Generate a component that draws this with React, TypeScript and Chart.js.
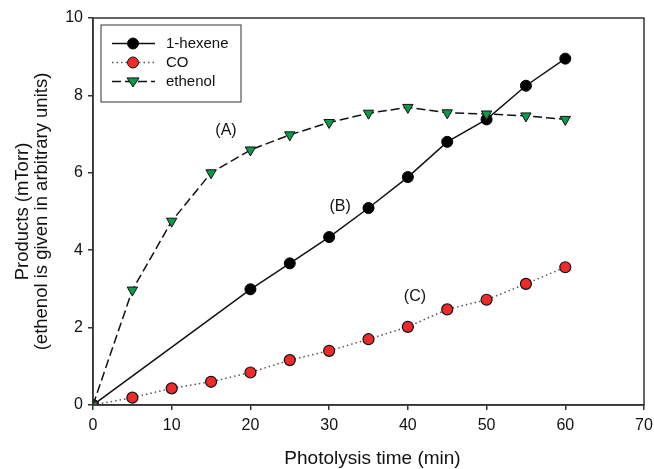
import React, { useEffect, useRef } from "react";
import { Chart, registerables } from "chart.js";

Chart.register(...registerables);

const times = [0, 5, 10, 15, 20, 25, 30, 35, 40, 45, 50, 55, 60];
const hexeneTimes = [0, 20, 25, 30, 35, 40, 45, 50, 55, 60];
const hexene = [0, 2.99, 3.66, 4.34, 5.09, 5.89, 6.8, 7.38, 8.25, 8.95];
const co = [0, 0.19, 0.43, 0.6, 0.84, 1.16, 1.4, 1.7, 2.02, 2.47, 2.72, 3.13, 3.56];
const ethenol = [0, 2.97, 4.75, 6.0, 6.59, 6.98, 7.3, 7.54, 7.69, 7.55, 7.52, 7.47, 7.38];
const annotations = [
  { text: "(A)", x: 16.9, y: 7.08 },
  { text: "(B)", x: 31.4, y: 5.12 },
  { text: "(C)", x: 40.9, y: 2.79 },
];
const xTitle = "Photolysis time (min)";
const yTitle = ["Products (mTorr)", "(ethenol is given in arbitrary units)"];

const FONT = "'Liberation Sans', Arial, sans-serif";

export default function App() {
  const ref = useRef<HTMLCanvasElement | null>(null);
  useEffect(() => {
    if (!ref.current) return;
    const toXY = (xs: number[], ys: number[]) => xs.map((x, i) => ({ x, y: ys[i] }));

    const framePlugin = {
      id: "frame",
      afterDraw(chart: any) {
        const { ctx, chartArea: a, scales } = chart;
        ctx.save();
        ctx.strokeStyle = "#333";
        ctx.lineWidth = 1.5;
        ctx.strokeRect(a.left, a.top, a.right - a.left, a.bottom - a.top);
        // axis titles
        ctx.fillStyle = "#111";
        ctx.font = `19px ${FONT}`;
        ctx.textAlign = "center";
        ctx.textBaseline = "alphabetic";
        ctx.fillText(xTitle, (a.left + a.right) / 2 + 4, 464);
        ctx.save();
        ctx.translate(0, (a.top + a.bottom) / 2);
        ctx.rotate(-Math.PI / 2);
        ctx.textBaseline = "middle";
        ctx.font = `18.5px ${FONT}`;
        yTitle.forEach((t, i) => {
          ctx.fillText(t, 0, 22.5 + i * 19);
        });
        ctx.restore();
        // annotations
        ctx.fillStyle = "#111";
        ctx.font = `16px ${FONT}`;
        ctx.textAlign = "center";
        ctx.textBaseline = "middle";
        annotations.forEach((n) => {
          ctx.fillText(n.text, scales.x.getPixelForValue(n.x), scales.y.getPixelForValue(n.y));
        });
        // legend
        const lx = a.left + 8;
        const ly = a.top + 7;
        ctx.lineWidth = 1;
        ctx.strokeStyle = "#333";
        ctx.strokeRect(lx, ly, 140, 77);
        const items = chart.data.datasets;
        items.forEach((ds: any, i: number) => {
          const y = ly + 18.5 + i * 19;
          ctx.save();
          ctx.strokeStyle = ds.borderColor;
          ctx.lineWidth = ds.borderWidth;
          ctx.setLineDash(ds.borderDash || []);
          ctx.beginPath();
          ctx.moveTo(lx + 11, y);
          ctx.lineTo(lx + 54, y);
          ctx.stroke();
          ctx.restore();
          ctx.save();
          ctx.fillStyle = ds.pointBackgroundColor;
          ctx.strokeStyle = "#111";
          ctx.lineWidth = 1;
          const cx = lx + 32;
          if (ds.pointStyle === "triangle") {
            const r = 6;
            ctx.beginPath();
            ctx.moveTo(cx - r, y - r * 0.6);
            ctx.lineTo(cx + r, y - r * 0.6);
            ctx.lineTo(cx, y + r * 0.9);
            ctx.closePath();
          } else {
            ctx.beginPath();
            ctx.arc(cx, y, 5.5, 0, Math.PI * 2);
          }
          ctx.fill();
          ctx.stroke();
          ctx.restore();
          ctx.fillStyle = "#111";
          ctx.font = `15px ${FONT}`;
          ctx.textAlign = "left";
          ctx.textBaseline = "middle";
          ctx.fillText(ds.label, lx + 65, y);
        });
        ctx.restore();
      },
    };

    const chart = new Chart(ref.current, {
      type: "scatter",
      data: {
        datasets: [
          {
            label: "1-hexene",
            data: toXY(hexeneTimes, hexene),
            showLine: true,
            borderColor: "#111",
            borderWidth: 1.5,
            pointStyle: "circle",
            pointRadius: 5.5,
            pointBackgroundColor: "#000",
            pointBorderColor: "#000",
            pointBorderWidth: 1,
            order: 3,
          },
          {
            label: "CO",
            data: toXY(times, co),
            showLine: true,
            borderColor: "#555",
            borderWidth: 1.5,
            borderDash: [1.5, 3],
            pointStyle: "circle",
            pointRadius: 5.5,
            pointBackgroundColor: "#ee2a2a",
            pointBorderColor: "#111",
            pointBorderWidth: 1.2,
            order: 2,
          },
          {
            label: "ethenol",
            data: toXY(times, ethenol),
            showLine: true,
            borderColor: "#111",
            borderWidth: 1.5,
            borderDash: [9, 4],
            pointStyle: "triangle",
            rotation: 180,
            pointRadius: 6,
            pointBackgroundColor: "#0b9a4a",
            pointBorderColor: "#111",
            pointBorderWidth: 1,
            order: 1,
          },
        ],
      },
      options: {
        animation: false,
        responsive: false,
        layout: { padding: { top: 18, right: 0, left: 0, bottom: 0 } },
        plugins: { legend: { display: false }, tooltip: { enabled: false } },
        scales: {
          x: {
            type: "linear",
            min: 0,
            max: 70,
            ticks: { stepSize: 10, color: "#111", font: { family: FONT, size: 16 }, padding: 6 },
            grid: { drawOnChartArea: false, drawTicks: true, tickLength: 5, color: "#333", lineWidth: 1.5 },
            border: { color: "#333", width: 1.5 },
            title: { display: false },
            afterFit(scale: any) {
              scale.height = 64;
              scale.paddingRight = 10;
            },
          },
          y: {
            type: "linear",
            min: 0,
            max: 10,
            ticks: { stepSize: 2, color: "#111", font: { family: FONT, size: 16 }, padding: 5 },
            grid: { drawOnChartArea: false, drawTicks: true, tickLength: 5, color: "#333", lineWidth: 1.5 },
            border: { color: "#333", width: 1.5 },
            title: { display: false },
            afterFit(scale: any) {
              scale.width = 93;
            },
          },
        },
      },
      plugins: [framePlugin],
    });
    return () => chart.destroy();
  }, []);
  return (
    <div style={{ position: "fixed", left: 0, top: 0, width: 654, height: 469, background: "#fff" }}>
      <canvas ref={ref} width={654} height={469} style={{ display: "block" }} />
    </div>
  );
}
